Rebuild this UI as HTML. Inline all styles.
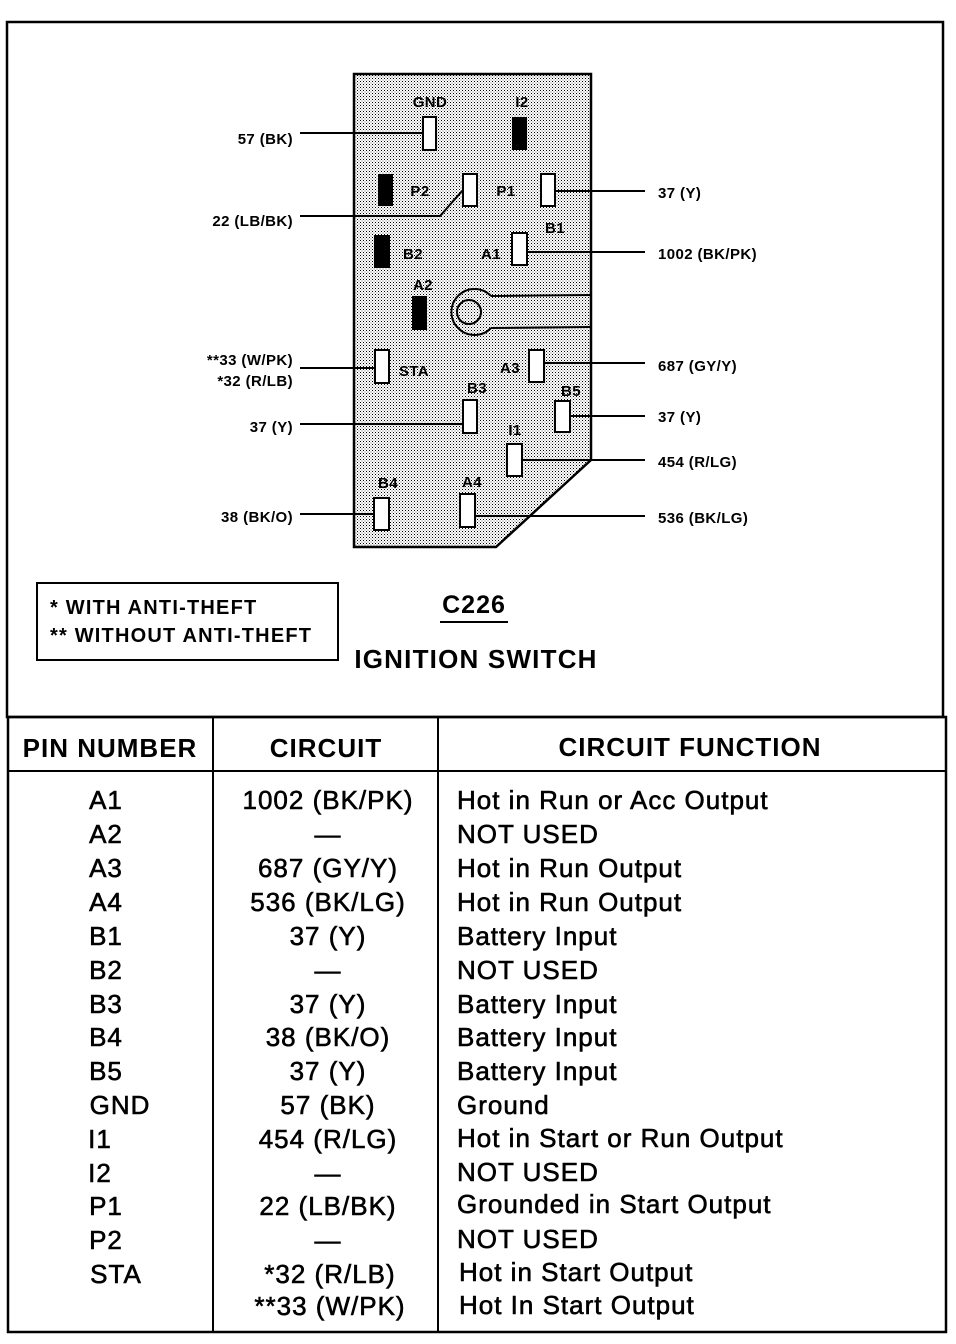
<!DOCTYPE html>
<html><head><meta charset="utf-8"><style>
html,body{margin:0;padding:0;background:#fff}
svg{display:block}
text{font-family:"Liberation Sans",sans-serif;fill:#000}
.l{font-size:15px;font-weight:bold;letter-spacing:0.4px}
.t{font-size:26px;stroke:#000;stroke-width:0.6;letter-spacing:1px}
.h{font-size:26px;font-weight:bold;letter-spacing:1px}
</style></head><body>
<svg width="956" height="1344" viewBox="0 0 956 1344" xmlns="http://www.w3.org/2000/svg">
<defs>
<pattern id="dots" width="3" height="3" patternUnits="userSpaceOnUse">
<rect width="3" height="3" fill="#fff"/>
<rect width="1" height="1" fill="#000"/>
<rect x="1.5" y="1.5" width="1" height="1" fill="#666"/>
</pattern>
</defs>
<rect x="7" y="22" width="936" height="695" fill="none" stroke="#000" stroke-width="2.5"/>
<rect x="8" y="717" width="938" height="615" fill="none" stroke="#000" stroke-width="2.5"/>
<line x1="8" y1="771" x2="946" y2="771" stroke="#000" stroke-width="2"/>
<line x1="213" y1="717" x2="213" y2="1332" stroke="#000" stroke-width="2"/>
<line x1="438" y1="717" x2="438" y2="1332" stroke="#000" stroke-width="2"/>
<polygon points="354,74 591,74 591,460 496,547 354,547" fill="url(#dots)" stroke="#000" stroke-width="2.5"/>
<g stroke="#000" stroke-width="2" fill="none">
<line x1="300" y1="133" x2="423" y2="133"/>
<polyline points="300,216 440,216 463,190"/>
<line x1="555" y1="191" x2="645" y2="191"/>
<line x1="527" y1="252" x2="645" y2="252"/>
<line x1="544" y1="363" x2="645" y2="363"/>
<line x1="300" y1="368" x2="375" y2="368"/>
<line x1="300" y1="424" x2="463" y2="424"/>
<line x1="570" y1="416" x2="645" y2="416"/>
<line x1="522" y1="460" x2="645" y2="460"/>
<line x1="300" y1="514" x2="374" y2="514"/>
<line x1="475" y1="516" x2="645" y2="516"/>
<path d="M 491,296 L 591,295 M 491,328 L 591,327 M 491,296 A 23 23 0 1 0 491,328" />
<circle cx="469" cy="312" r="12"/>
</g>
<g stroke="#000" stroke-width="2" fill="#fff">
<rect x="423" y="117" width="13" height="33"/>
<rect x="463" y="174" width="14" height="32"/>
<rect x="541" y="174" width="14" height="32"/>
<rect x="512" y="233" width="15" height="32"/>
<rect x="375" y="350" width="14" height="33"/>
<rect x="529" y="350" width="15" height="32"/>
<rect x="463" y="400" width="14" height="33"/>
<rect x="555" y="401" width="15" height="31"/>
<rect x="507" y="444" width="15" height="32"/>
<rect x="374" y="498" width="15" height="32"/>
<rect x="460" y="494" width="15" height="33"/>
</g>
<g fill="#000">
<rect x="512" y="117" width="15" height="33"/>
<rect x="378" y="174" width="15" height="32"/>
<rect x="374" y="235" width="16" height="33"/>
<rect x="412" y="296" width="15" height="34"/>
</g>
<g class="l" text-anchor="middle">
<text x="430" y="107">GND</text>
<text x="522" y="107">I2</text>
<text x="420" y="196">P2</text>
<text x="506" y="196">P1</text>
<text x="555" y="233">B1</text>
<text x="413" y="259">B2</text>
<text x="491" y="259">A1</text>
<text x="423" y="290">A2</text>
<text x="414" y="376">STA</text>
<text x="510" y="373">A3</text>
<text x="477" y="393">B3</text>
<text x="571" y="396">B5</text>
<text x="515" y="435">I1</text>
<text x="388" y="488">B4</text>
<text x="472" y="487">A4</text>
</g>
<g class="l" text-anchor="end">
<text x="293" y="144">57 (BK)</text>
<text x="293" y="226">22 (LB/BK)</text>
<text x="293" y="365">**33 (W/PK)</text>
<text x="293" y="386">*32 (R/LB)</text>
<text x="293" y="432">37 (Y)</text>
<text x="293" y="522">38 (BK/O)</text>
</g>
<g class="l">
<text x="658" y="198">37 (Y)</text>
<text x="658" y="259">1002 (BK/PK)</text>
<text x="658" y="371">687 (GY/Y)</text>
<text x="658" y="422">37 (Y)</text>
<text x="658" y="467">454 (R/LG)</text>
<text x="658" y="523">536 (BK/LG)</text>
</g>
<rect x="37" y="583" width="301" height="77" fill="none" stroke="#000" stroke-width="2"/>
<text x="50" y="614" style="font-size:20px;font-weight:bold;letter-spacing:1.2px">* WITH ANTI-THEFT</text>
<text x="50" y="642" style="font-size:20px;font-weight:bold;letter-spacing:1.2px">** WITHOUT ANTI-THEFT</text>
<text x="474" y="613" text-anchor="middle" style="font-size:25px;font-weight:bold;letter-spacing:1px">C226</text>
<line x1="440" y1="622" x2="508" y2="622" stroke="#000" stroke-width="2"/>
<text x="476" y="668" text-anchor="middle" style="font-size:26px;font-weight:bold;letter-spacing:1.2px">IGNITION SWITCH</text>
<text class="h" x="110" y="757" text-anchor="middle">PIN NUMBER</text>
<text class="h" x="326" y="757" text-anchor="middle">CIRCUIT</text>
<text class="h" x="690" y="756" text-anchor="middle">CIRCUIT FUNCTION</text>
<g class="t">
<g text-anchor="middle">
<text x="106" y="809">A1</text>
<text x="106" y="843">A2</text>
<text x="106" y="877">A3</text>
<text x="106" y="911">A4</text>
<text x="106" y="945">B1</text>
<text x="106" y="979">B2</text>
<text x="106" y="1013">B3</text>
<text x="106" y="1046">B4</text>
<text x="106" y="1080">B5</text>
<text x="120" y="1114">GND</text>
<text x="100" y="1148">I1</text>
<text x="100" y="1182">I2</text>
<text x="106" y="1215">P1</text>
<text x="106" y="1249">P2</text>
<text x="116" y="1283">STA</text>
<text x="328" y="809">1002 (BK/PK)</text>
<text x="328" y="843">—</text>
<text x="328" y="877">687 (GY/Y)</text>
<text x="328" y="911">536 (BK/LG)</text>
<text x="328" y="945">37 (Y)</text>
<text x="328" y="979">—</text>
<text x="328" y="1013">37 (Y)</text>
<text x="328" y="1046">38 (BK/O)</text>
<text x="328" y="1080">37 (Y)</text>
<text x="328" y="1114">57 (BK)</text>
<text x="328" y="1148">454 (R/LG)</text>
<text x="328" y="1182">—</text>
<text x="328" y="1215">22 (LB/BK)</text>
<text x="328" y="1249">—</text>
<text x="330" y="1283">*32 (R/LB)</text>
<text x="330" y="1315">**33 (W/PK)</text>
</g>
<text x="457" y="809">Hot in Run or Acc Output</text>
<text x="457" y="843">NOT USED</text>
<text x="457" y="877">Hot in Run Output</text>
<text x="457" y="911">Hot in Run Output</text>
<text x="457" y="945">Battery Input</text>
<text x="457" y="979">NOT USED</text>
<text x="457" y="1013">Battery Input</text>
<text x="457" y="1046">Battery Input</text>
<text x="457" y="1080">Battery Input</text>
<text x="457" y="1114">Ground</text>
<text x="457" y="1147">Hot in Start or Run Output</text>
<text x="457" y="1181">NOT USED</text>
<text x="457" y="1213">Grounded in Start Output</text>
<text x="457" y="1248">NOT USED</text>
<text x="459" y="1281">Hot in Start Output</text>
<text x="459" y="1314">Hot In Start Output</text>
</g>
</svg>
</body></html>
